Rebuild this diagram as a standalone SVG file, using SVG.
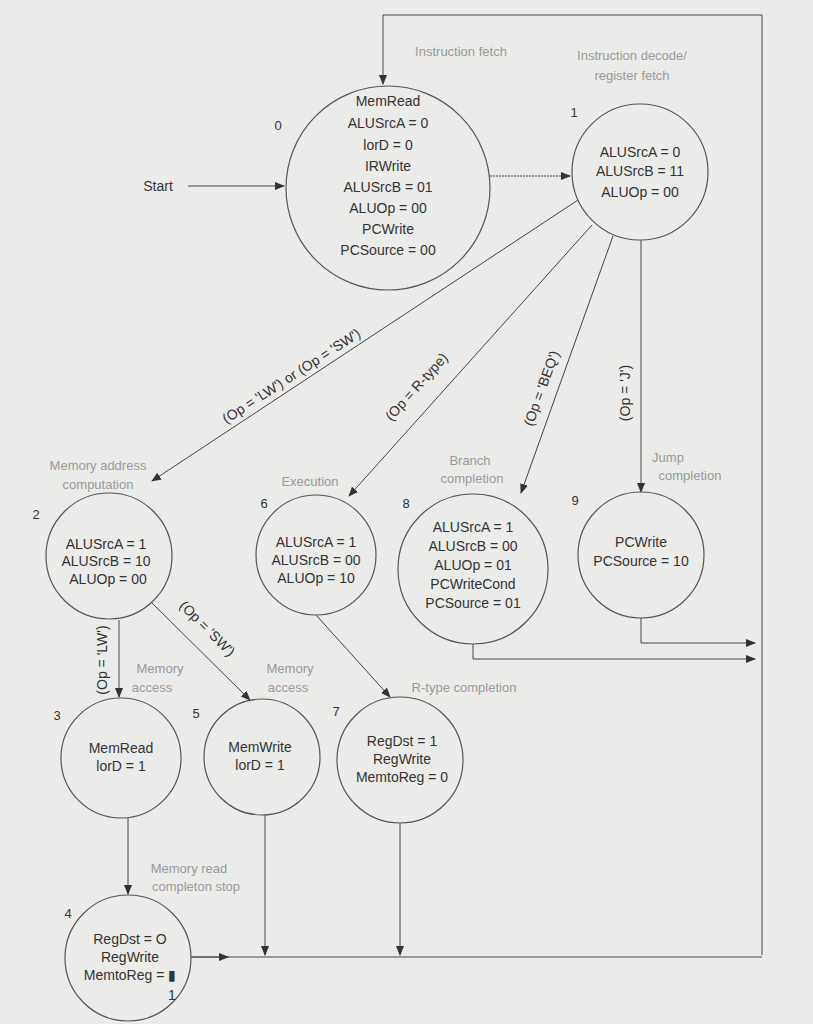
<svg xmlns="http://www.w3.org/2000/svg" width="813" height="1024" viewBox="0 0 813 1024">
<style>
.bg{fill:#ebebe9}
.st{fill:none;stroke:#555;stroke-width:1.2}
.t{font-family:"Liberation Sans",Arial,sans-serif;font-size:14px;fill:#333;text-anchor:middle}
.g{font-family:"Liberation Sans",Arial,sans-serif;font-size:13px;fill:#999;text-anchor:middle}
.n{font-family:"Liberation Sans",Arial,sans-serif;font-size:13px;fill:#333;text-anchor:middle}
.l{fill:none;stroke:#444;stroke-width:1}
</style>
<defs><marker id="a" markerWidth="10" markerHeight="8" refX="9" refY="4" orient="auto" markerUnits="userSpaceOnUse"><path d="M0,0L10,4L0,8z" fill="#333"/></marker></defs>
<rect class="bg" width="813" height="1024"/>
<g id="connectors">
<path class="l" d="M188,186H284" marker-end="url(#a)"/>
<path class="l" d="M490,176H570" stroke-dasharray="2,1" marker-end="url(#a)"/>
<path class="l" d="M762,955V15H383V84" marker-end="url(#a)"/>
<path class="l" d="M578,200L152,481" marker-end="url(#a)"/>
<path class="l" d="M592,225L349,496" marker-end="url(#a)"/>
<path class="l" d="M613,236L521,493" marker-end="url(#a)"/>
<path class="l" d="M641,240V492" marker-end="url(#a)"/>
<path class="l" d="M119,620V697" marker-end="url(#a)"/>
<path class="l" d="M152,603L250,700" marker-end="url(#a)"/>
<path class="l" d="M316,615L390,697" marker-end="url(#a)"/>
<path class="l" d="M128,818V894" marker-end="url(#a)"/>
<path class="l" d="M641,618V643H755" marker-end="url(#a)"/>
<path class="l" d="M473,644V659H755" marker-end="url(#a)"/>
<path class="l" d="M191,957H762"/>
<path class="l" d="M191,957H228" marker-end="url(#a)"/>
<path class="l" d="M265,815V955" marker-end="url(#a)"/>
<path class="l" d="M400,823V955" marker-end="url(#a)"/>
<text class="t" transform="translate(294,380) rotate(-33)">(Op = 'LW') or (Op = 'SW')</text>
<text class="t" transform="translate(420,390) rotate(-48)">(Op = R-type)</text>
<text class="t" transform="translate(546,390) rotate(-70)">(Op = 'BEQ')</text>
<text class="t" transform="translate(630,393) rotate(-90)">(Op = 'J')</text>
<text class="t" transform="translate(107,660) rotate(-90)">(Op = 'LW')</text>
<text class="t" transform="translate(204,632) rotate(45)">(Op = 'SW')</text>
</g>
<g id="labels">
<text class="t" x="158" y="191">Start</text>
<text class="g" x="461" y="56">Instruction fetch</text>
<text class="g" x="632" y="60">Instruction decode/</text>
<text class="g" x="632" y="80">register fetch</text>
<text class="g" x="98" y="470">Memory address</text>
<text class="g" x="98" y="489">computation</text>
<text class="g" x="310" y="486">Execution</text>
<text class="g" x="470" y="465">Branch</text>
<text class="g" x="472" y="483">completion</text>
<text class="g" x="668" y="462">Jump</text>
<text class="g" x="690" y="480">completion</text>
<text class="g" x="160" y="673">Memory</text>
<text class="g" x="152" y="692">access</text>
<text class="g" x="290" y="673">Memory</text>
<text class="g" x="288" y="692">access</text>
<text class="g" x="464" y="692">R-type completion</text>
<text class="g" x="189" y="873">Memory read</text>
<text class="g" x="196" y="891">completon stop</text>
</g>
<g id="s0"><circle class="st" cx="388" cy="188" r="102"/><text class="n" x="278" y="130">0</text>
<text class="t" x="388" y="106">MemRead</text><text class="t" x="388" y="128">ALUSrcA = 0</text><text class="t" x="388" y="150">lorD = 0</text><text class="t" x="388" y="171">IRWrite</text><text class="t" x="388" y="192">ALUSrcB = 01</text><text class="t" x="388" y="213">ALUOp = 00</text><text class="t" x="388" y="234">PCWrite</text><text class="t" x="388" y="255">PCSource = 00</text></g>
<g id="s1"><circle class="st" cx="640" cy="172" r="68"/><text class="n" x="574" y="117">1</text>
<text class="t" x="640" y="157">ALUSrcA = 0</text><text class="t" x="640" y="176">ALUSrcB = 11</text><text class="t" x="640" y="197">ALUOp = 00</text></g>
<g id="s2"><circle class="st" cx="109" cy="556" r="63"/><text class="n" x="36" y="519">2</text>
<text class="t" x="106" y="549">ALUSrcA = 1</text><text class="t" x="106" y="566">ALUSrcB = 10</text><text class="t" x="108" y="584">ALUOp = 00</text></g>
<g id="s6"><circle class="st" cx="316" cy="555" r="60"/><text class="n" x="264" y="508">6</text>
<text class="t" x="316" y="547">ALUSrcA = 1</text><text class="t" x="316" y="565">ALUSrcB = 00</text><text class="t" x="316" y="583">ALUOp = 10</text></g>
<g id="s8"><circle class="st" cx="473" cy="569" r="75"/><text class="n" x="406" y="508">8</text>
<text class="t" x="473" y="532">ALUSrcA = 1</text><text class="t" x="473" y="551">ALUSrcB = 00</text><text class="t" x="473" y="570">ALUOp = 01</text><text class="t" x="473" y="589">PCWriteCond</text><text class="t" x="473" y="608">PCSource = 01</text></g>
<g id="s9"><circle class="st" cx="641" cy="555" r="63"/><text class="n" x="575" y="505">9</text>
<text class="t" x="641" y="547">PCWrite</text><text class="t" x="641" y="566">PCSource = 10</text></g>
<g id="s3"><circle class="st" cx="121" cy="758" r="60"/><text class="n" x="57" y="720">3</text>
<text class="t" x="121" y="753">MemRead</text><text class="t" x="121" y="771">lorD = 1</text></g>
<g id="s5"><circle class="st" cx="262" cy="757" r="58"/><text class="n" x="196" y="718">5</text>
<text class="t" x="260" y="752">MemWrite</text><text class="t" x="260" y="770">lorD = 1</text></g>
<g id="s7"><circle class="st" cx="400" cy="760" r="63"/><text class="n" x="336" y="716">7</text>
<text class="t" x="402" y="746">RegDst = 1</text><text class="t" x="402" y="764">RegWrite</text><text class="t" x="402" y="782">MemtoReg = 0</text></g>
<g id="s4"><circle class="st" cx="128" cy="958" r="63"/><text class="n" x="68" y="918">4</text>
<text class="t" x="130" y="944">RegDst = O</text><text class="t" x="130" y="962">RegWrite</text><text class="t" x="130" y="980">MemtoReg = ▮</text><text class="t" x="172" y="1000" font-size="16">1</text></g>
</svg>
